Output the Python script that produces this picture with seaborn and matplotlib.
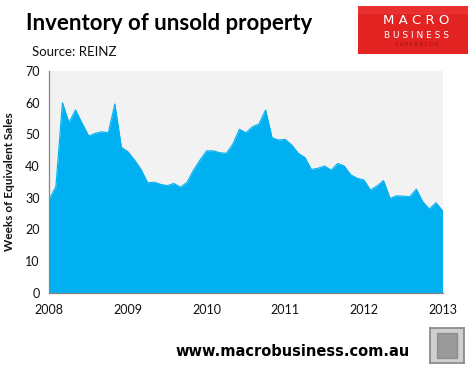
import numpy as np
import pandas as pd
import matplotlib
matplotlib.use("Agg")
import matplotlib.pyplot as plt
import seaborn as sns
from matplotlib.patches import Rectangle

# Monthly data Jan 2008 .. Jan 2013 (weeks of equivalent sales)
months = pd.date_range("2008-01-01", "2013-01-01", freq="MS")
weeks = [
    29.5, 33.5, 60.0, 53.7, 57.7, 53.5, 49.5, 50.3, 50.8, 50.5, 59.6, 45.9,   # 2008
    44.5, 41.9, 38.9, 34.7, 34.9, 34.2, 33.8, 34.5, 33.3, 34.8, 38.7, 41.9,   # 2009
    44.8, 44.8, 44.2, 44.0, 46.9, 51.6, 50.5, 52.4, 53.3, 57.7, 48.9, 48.2,   # 2010
    48.4, 46.6, 44.0, 42.7, 38.9, 39.3, 40.0, 38.7, 40.8, 40.0, 37.2, 36.1,   # 2011
    35.6, 32.4, 33.7, 35.4, 29.8, 30.6, 30.5, 30.3, 32.7, 28.7, 26.4, 28.4,   # 2012
    25.9,                                                                    # 2013
]
year_ticks = [2008, 2009, 2010, 2011, 2012, 2013]
y_ticks = [0, 10, 20, 30, 40, 50, 60, 70]

title = "Inventory of unsold property"
source = "Source: REINZ"
ylabel = "Weeks of Equivalent Sales"
footer = "www.macrobusiness.com.au"

df = pd.DataFrame({
    "t": months.year + (months.month - 1) / 12.0,
    "weeks": weeks,
})

sns.set_theme(style="white")
plt.rcParams["font.family"] = ["Lato", "DejaVu Sans"]

fig = plt.figure(figsize=(4.77, 3.71), dpi=100)
ax = fig.add_axes([0.1034, 0.211, 0.8243, 0.5976])
ax.set_facecolor("#f2f2f2")

blue = "#00b0f0"
sns.lineplot(data=df, x="t", y="weeks", ax=ax, color=blue, linewidth=0.8)
ax.fill_between(df["t"], df["weeks"], 0, color=blue, linewidth=0)

ax.set_xlim(2008, 2013)
ax.set_ylim(0, 70)
ax.set_xticks(year_ticks)
ax.set_xticklabels([str(y) for y in year_ticks])
ax.set_yticks(y_ticks)
ax.set_xlabel("")
ax.set_ylabel(ylabel, fontsize=8.5, fontweight="bold", color="#111111", labelpad=7)

for s in ["top", "right"]:
    ax.spines[s].set_visible(False)
for s in ["left", "bottom"]:
    ax.spines[s].set_color("#868686")
    ax.spines[s].set_linewidth(0.9)
ax.tick_params(axis="both", which="major", direction="out", length=4, width=0.9,
               color="#868686", labelsize=9, labelcolor="#111111", pad=3)
ax.tick_params(axis="x", pad=4)
ax.grid(False)

# Title & source
fig.text(26 / 477, 1 - 23 / 371, title, fontsize=16, fontweight="bold",
         color="#000000", ha="left", va="center")
fig.text(32 / 477, 1 - 52 / 371, source, fontsize=9.5, color="#111111",
         ha="left", va="center")

# Logo
logo_ax = fig.add_axes([358 / 477, 1 - 54 / 371, 110 / 477, 48 / 371])
logo_ax.set_xlim(0, 1)
logo_ax.set_ylim(0, 1)
logo_ax.axis("off")
logo_ax.add_patch(Rectangle((0, 0), 1, 1, color="#e32322"))
logo_ax.add_patch(Rectangle((0, 0.85), 1, 0.15, color="#f03a3a", alpha=0.5))
logo_ax.text(0.53, 0.70, "M A C R O", color="white", fontsize=9.5,
             ha="center", va="center", family="DejaVu Sans")
logo_ax.text(0.53, 0.39, "B U S I N E S S", color="white", fontsize=6.5,
             ha="center", va="center", family="DejaVu Sans")
logo_ax.text(0.53, 0.19, "S U P E R B L O G", color="#9a1010", fontsize=3.6,
             ha="center", va="center", family="DejaVu Sans")

# Footer
fig.text(175 / 477, 1 - 351 / 371, footer, fontsize=10.5, fontweight="bold",
         color="#000000", ha="left", va="center", family="DejaVu Sans")

# Small wolf icon placeholder
icon_ax = fig.add_axes([430 / 477, 1 - 363 / 371, 34 / 477, 35 / 371])
icon_ax.set_xticks([])
icon_ax.set_yticks([])
icon_ax.set_facecolor("#d0d0d0")
for s in icon_ax.spines.values():
    s.set_color("#888888")
icon_ax.add_patch(Rectangle((0.2, 0.15), 0.6, 0.7, color="#777777", alpha=0.6))

fig.savefig("out.png", dpi=100)
